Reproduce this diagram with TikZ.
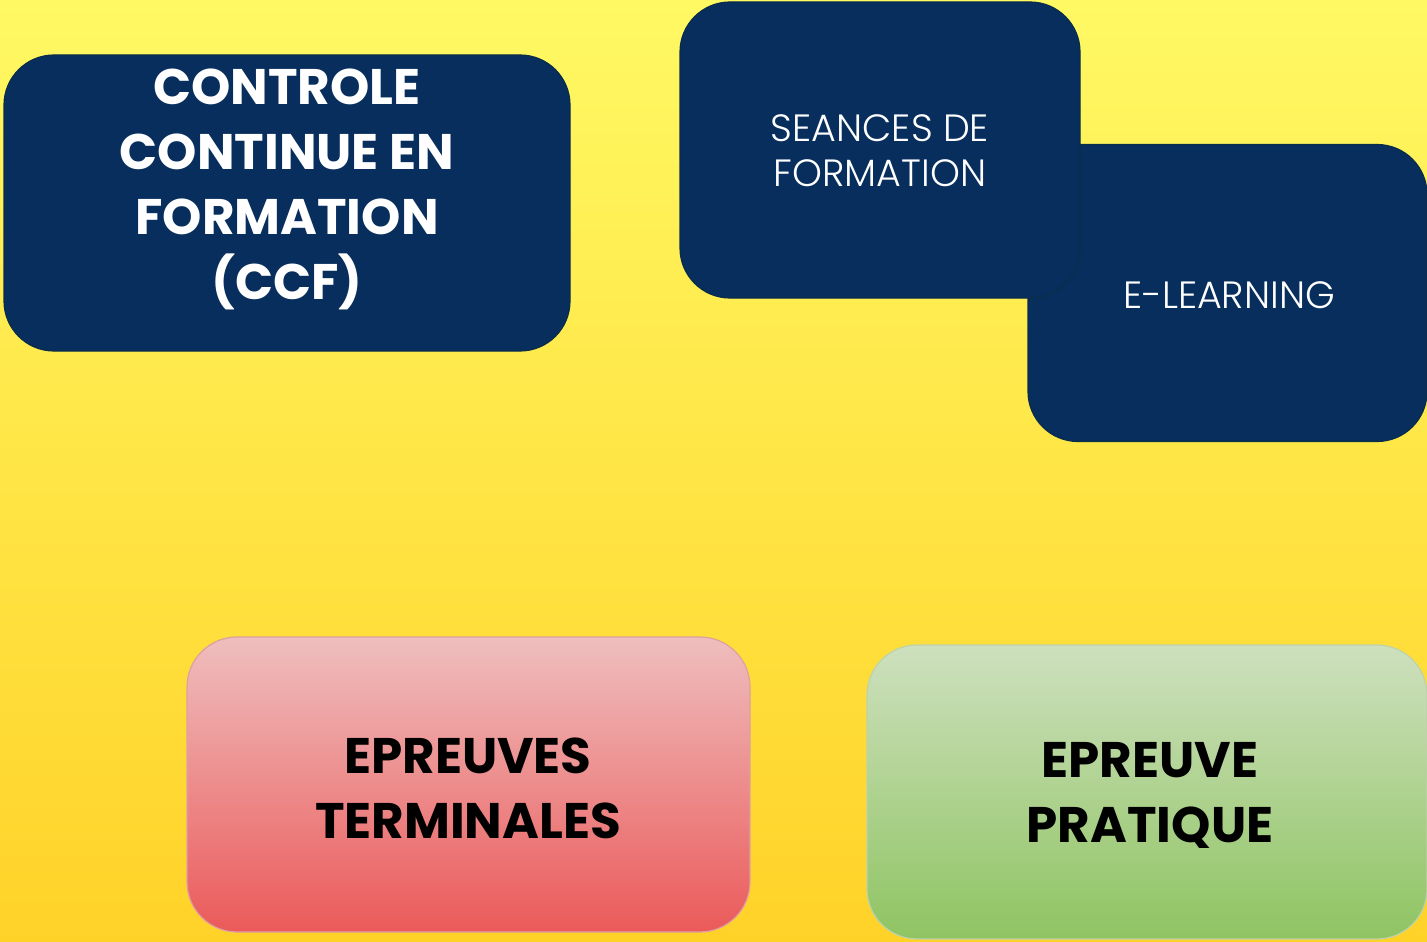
\documentclass[tikz,border=0pt]{standalone}
\usepackage{fontspec}
\setmainfont{Poppins}
\newfontfamily\plight{Poppins Light}
\definecolor{navy}{RGB}{7,46,92}
\definecolor{navyline}{RGB}{10,45,75}
\definecolor{bgtop}{RGB}{255,249,100}
\definecolor{bgbot}{RGB}{255,210,40}
\definecolor{pinktop}{RGB}{239,190,190}
\definecolor{pinkbot}{RGB}{235,90,90}
\definecolor{pinkline}{RGB}{222,160,160}
\definecolor{greentop}{RGB}{206,224,190}
\definecolor{greenbot}{RGB}{143,196,98}
\definecolor{greenline}{RGB}{190,210,170}
\tikzset{
  navybox/.style={draw=navyline, line width=0.6pt, fill=navy, rounded corners=25pt, inner sep=0pt},
  pinkbox/.style={draw=pinkline, line width=0.6pt, top color=pinktop, bottom color=pinkbot, rounded corners=25pt, inner sep=0pt},
  greenbox/.style={draw=greenline, line width=0.6pt, top color=greentop, bottom color=greenbot, rounded corners=25pt, inner sep=0pt},
  boldtxt/.style={align=center, font=\fontsize{25}{32.5}\selectfont\bfseries, inner sep=0pt},
  lighttxt/.style={align=center, font=\plight\fontsize{19}{22.5}\selectfont, text=white, inner sep=0pt}
}
\begin{document}
\begin{tikzpicture}[x=0.5pt,y=-0.5pt]
\useasboundingbox (0,0) rectangle (1427,941);
\fill[top color=bgtop, bottom color=bgbot] (0,0) rectangle (1427,941);
% CCF
\node[navybox, minimum width=283pt, minimum height=148pt] (ccf) at (287,203) {};
\node[boldtxt, text=white] (ccft) at (287,189) {CONTROLE\\CONTINUE EN\\FORMATION\\(CCF)};
% E-learning
\node[navybox, minimum width=199.5pt, minimum height=148.5pt] (elearn) at (1227.5,293) {};
\node[lighttxt] (elearnt) at (1229,295) {E-LEARNING};
% Seances
\node[navybox, minimum width=200pt, minimum height=148pt] (seances) at (880,150) {};
\node[lighttxt] (seancest) at (880,151) {SEANCES DE\\FORMATION};
% Epreuves terminales
\node[pinkbox, minimum width=281.5pt, minimum height=147.5pt] (term) at (468.5,784.5) {};
\node[boldtxt, text=black] (termt) at (468,788) {EPREUVES\\TERMINALES};
% Epreuve pratique
\node[greenbox, minimum width=280pt, minimum height=147pt] (prat) at (1147,792) {};
\node[boldtxt, text=black] (pratt) at (1150,795) {EPREUVE\\PRATIQUE};
\end{tikzpicture}
\end{document}
